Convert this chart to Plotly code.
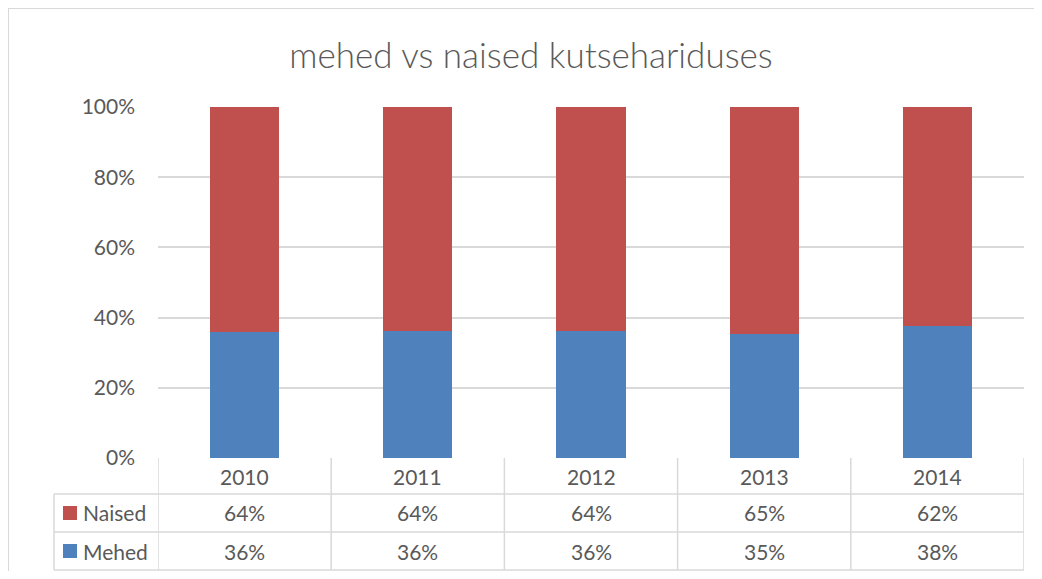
import plotly.graph_objects as go

years = ["2010", "2011", "2012", "2013", "2014"]
mehed = [0.360, 0.362, 0.362, 0.353, 0.377]
naised = [0.640, 0.638, 0.638, 0.647, 0.623]
mehed_labels = ["36%", "36%", "36%", "35%", "38%"]
naised_labels = ["64%", "64%", "64%", "65%", "62%"]

RED = "#C0504D"
BLUE = "#4F81BD"
GRID = "#d9d9d9"
TXT = "#595959"
FONT = "Lato, sans-serif"

# page body has an 8px margin, so the figure is drawn 8px in from the corner
OFF = 8
W, H = 1042 - OFF, 579 - 2 * OFF


def py(pix):
    # pixel row of the reference -> paper y
    return 1 - (pix - OFF) / H


def px_(pix):
    return (pix - OFF) / W


fig = go.Figure()
fig.add_trace(go.Bar(x=list(range(5)), y=mehed, name="Mehed", marker_color=BLUE,
                     marker_line_width=0, width=0.4))
fig.add_trace(go.Bar(x=list(range(5)), y=naised, name="Naised", marker_color=RED,
                     marker_line_width=0, width=0.4))

# table rows (pixel rows)
r0, r1, r2, r3 = 458, 494, 532, 570
tab_left = 54

shapes = []
line = dict(color=GRID, width=1.5)
for r in (r1, r2, r3):
    shapes.append(dict(type="line", xref="paper", yref="paper",
                       x0=px_(tab_left), x1=px_(1024), y0=py(r), y1=py(r), line=line))
# vertical lines at category boundaries
for b in [-0.5, 0.5, 1.5, 2.5, 3.5, 4.5]:
    shapes.append(dict(type="line", xref="x", yref="paper",
                       x0=b, x1=b, y0=py(r0), y1=py(r3), line=line))
shapes.append(dict(type="line", xref="paper", yref="paper",
                   x0=px_(tab_left), x1=px_(tab_left), y0=py(r1), y1=py(r3), line=line))
# outer chart border (only top and left edges are inside the picture)
shapes.append(dict(type="line", xref="paper", yref="paper",
                   x0=px_(8), x1=1, y0=py(8), y1=py(8), line=dict(color=GRID, width=2)))
shapes.append(dict(type="line", xref="paper", yref="paper",
                   x0=px_(8), x1=px_(8), y0=py(8), y1=0, line=dict(color=GRID, width=2)))
# legend keys
for r_top, r_bot, col in ((r1, r2, RED), (r2, r3, BLUE)):
    mid = (r_top + r_bot) / 2
    shapes.append(dict(type="rect", xref="paper", yref="paper",
                       x0=px_(63), x1=px_(77), y0=py(mid - 7), y1=py(mid + 7),
                       fillcolor=col, line=dict(width=0)))

ann = []
fnt = dict(family=FONT, size=21, color=TXT)
for i, y in enumerate(years):
    ann.append(dict(x=i, y=py((r0 + r1) / 2), xref="x", yref="paper", text=y,
                    showarrow=False, font=fnt, xanchor="center", yanchor="middle"))
    ann.append(dict(x=i, y=py((r1 + r2) / 2), xref="x", yref="paper", text=naised_labels[i],
                    showarrow=False, font=fnt, xanchor="center", yanchor="middle"))
    ann.append(dict(x=i, y=py((r2 + r3) / 2), xref="x", yref="paper", text=mehed_labels[i],
                    showarrow=False, font=fnt, xanchor="center", yanchor="middle"))
ann.append(dict(x=px_(81), y=py((r1 + r2) / 2), xref="paper", yref="paper", text="Naised",
                showarrow=False, font=fnt, xanchor="left", yanchor="middle"))
ann.append(dict(x=px_(81), y=py((r2 + r3) / 2), xref="paper", yref="paper", text="Mehed",
                showarrow=False, font=fnt, xanchor="left", yanchor="middle"))

fig.update_layout(
    barmode="stack",
    width=W, height=H,
    margin=dict(l=0, r=0, t=0, b=0, pad=0, autoexpand=False),
    paper_bgcolor="white", plot_bgcolor="white",
    font=dict(family=FONT, size=21, color=TXT),
    showlegend=False,
    title=dict(text="mehed vs naised kutsehariduses", x=px_(531), xanchor="center",
               y=py(56), yanchor="middle",
               font=dict(family=FONT, size=35, color=TXT, weight=300)),
    xaxis=dict(domain=[px_(158), px_(1024)], range=[-0.5, 4.5], showticklabels=False,
               showgrid=False, zeroline=False, showline=False, ticks="", automargin=False),
    yaxis=dict(domain=[py(458), py(107)], range=[0, 1], tickformat=".0%", dtick=0.2,
               gridcolor=GRID, gridwidth=1.5, zeroline=False, showline=False,
               ticks="", ticklabelstandoff=22, automargin=False,
               tickfont=dict(family=FONT, size=21, color=TXT)),
    shapes=shapes,
    annotations=ann,
)

fig.write_html("out.html")
